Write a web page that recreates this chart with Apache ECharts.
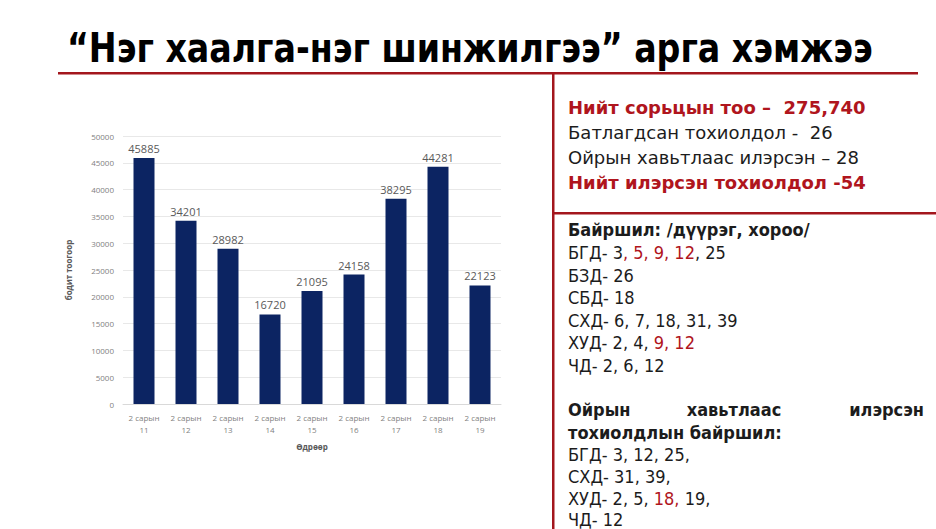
<!DOCTYPE html>
<html><head><meta charset="utf-8">
<script src="https://cdn.jsdelivr.net/npm/echarts@6/dist/echarts.min.js"></script>
<style>html,body{margin:0;padding:0;background:#fff}#c{width:936px;height:529px}</style>
</head><body><div id="c"></div>
<script>
var categories = ['2 сарын\n11','2 сарын\n12','2 сарын\n13','2 сарын\n14','2 сарын\n15','2 сарын\n16','2 сарын\n17','2 сарын\n18','2 сарын\n19'];
var values = [45885, 34201, 28982, 16720, 21095, 24158, 38295, 44281, 22123];
var titleText = '“Нэг хаалга-нэг шинжилгээ” арга хэмжээ';
var xName = 'Өдрөөр';
var yName = 'бодит тоогоор';

var RED = '#b0151d', LINE = '#a3161d', TXT = '#1c1c1c';
var F = 'DejaVu Sans Condensed, DejaVu Sans, sans-serif';
var F1 = 'DejaVu Sans, sans-serif';
var chart = echarts.init(document.getElementById('c'), null, {renderer: 'svg'});

var rich = {
  r: {fill: RED, color: RED, fontFamily: F, fontSize: 18},
  k: {fill: TXT, color: TXT, fontFamily: F, fontSize: 18}
};
function rt(x, y, text) {
  return {type: 'text', x: x, y: y, style: {text: text, rich: rich, fontFamily: F, fontSize: 18, fill: TXT, verticalAlign: 'middle'}};
}
function pt(x, y, text, bold, color, fam) {
  return {type: 'text', x: x, y: y, style: {text: text, fontFamily: fam || F, fontSize: 18, fontWeight: bold ? 'bold' : 'normal', fill: color || TXT, verticalAlign: 'middle'}};
}

var graphics = [
  {type: 'text', x: 67, y: 48, scaleY: 1.1, style: {text: titleText, fontFamily: 'DejaVu Sans Condensed, sans-serif', fontWeight: 'bold', fontSize: 37, fill: '#000', verticalAlign: 'middle'}},
  {type: 'rect', shape: {x: 58, y: 72, width: 860, height: 2.5}, style: {fill: LINE}},
  {type: 'rect', shape: {x: 552, y: 72, width: 2.5, height: 457}, style: {fill: LINE}},
  {type: 'rect', shape: {x: 552, y: 212, width: 384, height: 2.5}, style: {fill: LINE}},
  pt(568, 107, 'Нийт сорьцын тоо –  275,740', true, RED, F1),
  pt(568, 132, 'Батлагдсан тохиолдол -  26', false, null, F1),
  pt(568, 157, 'Ойрын хавьтлаас илэрсэн – 28', false, null, F1),
  pt(568, 182, 'Нийт илэрсэн тохиолдол -54', true, RED, F1),
  pt(568, 229, 'Байршил: /дүүрэг, хороо/', true),
  rt(568, 252, '{k|БГД- 3}{r|, 5, 9, 12}{k|, 25}'),
  pt(568, 275, 'БЗД- 26'),
  pt(568, 297, 'СБД- 18'),
  pt(568, 320, 'СХД- 6, 7, 18, 31, 39'),
  rt(568, 342, '{k|ХУД- 2, 4, }{r|9, 12}'),
  pt(568, 365, 'ЧД- 2, 6, 12'),
  pt(568, 409, 'Ойрын', true),
  {type: 'text', x: 734, y: 409, style: {text: 'хавьтлаас', fontFamily: F, fontSize: 18, fontWeight: 'bold', fill: TXT, verticalAlign: 'middle', align: 'center'}},
  {type: 'text', x: 924, y: 409, style: {text: 'илэрсэн', fontFamily: F, fontSize: 18, fontWeight: 'bold', fill: TXT, verticalAlign: 'middle', align: 'right'}},
  pt(568, 432, 'тохиолдлын байршил:', true),
  pt(568, 454, 'БГД- 3, 12, 25,'),
  pt(568, 476, 'СХД- 31, 39,'),
  rt(568, 498, '{k|ХУД- 2, 5, }{r|18,}{k| 19,}'),
  pt(568, 519, 'ЧД- 12')
];

chart.setOption({
  animation: false,
  graphic: graphics,
  grid: {left: 123, right: 435, top: 136, bottom: 125},
  xAxis: {
    type: 'category', data: categories,
    name: xName, nameLocation: 'middle', nameGap: 38,
    nameTextStyle: {fontSize: 8, fontWeight: 'bold', color: '#595959', fontFamily: 'Open Sans, sans-serif'},
    axisLine: {lineStyle: {color: '#d9d9d9'}}, axisTick: {show: false},
    axisLabel: {interval: 0, fontSize: 8, color: '#7f7f7f', lineHeight: 12, margin: 7, fontFamily: 'Open Sans, sans-serif'}
  },
  yAxis: {
    type: 'value', min: 0, max: 50000, interval: 5000,
    name: yName, nameLocation: 'middle', nameRotate: 90, nameGap: 51,
    nameTextStyle: {fontSize: 8, fontWeight: 'bold', color: '#595959', fontFamily: 'Open Sans, sans-serif'},
    axisLine: {show: false}, axisTick: {show: false},
    splitLine: {lineStyle: {color: '#e8e8e8'}},
    axisLabel: {fontSize: 8, color: '#7f7f7f', margin: 9, fontFamily: 'Open Sans, sans-serif', formatter: function (v) { return String(v); }}
  },
  series: [{
    type: 'bar', data: values, barWidth: '50%',
    itemStyle: {color: '#0c2462'},
    label: {show: true, position: 'top', distance: 4, fontSize: 11, color: '#595959', fontFamily: 'Open Sans, sans-serif'}
  }]
});
</script></body></html>
